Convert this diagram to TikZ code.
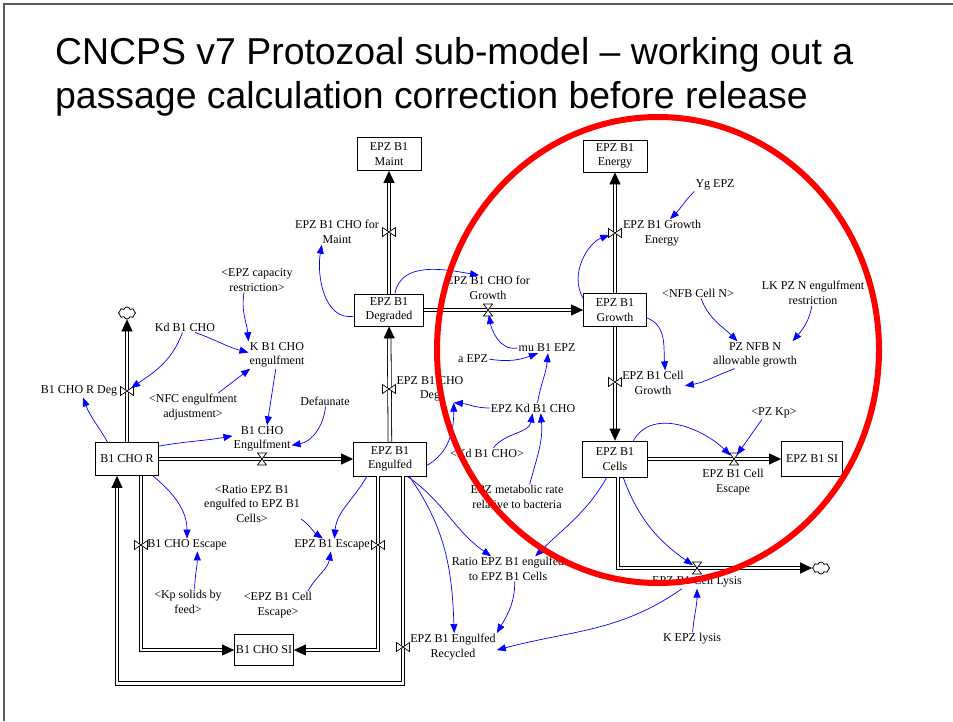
\documentclass[tikz,border=0pt]{standalone}
\usepackage{fontspec}
\setmainfont{Liberation Serif}
\newfontfamily\titlefont{Liberation Sans}
\usetikzlibrary{arrows.meta,shapes.symbols}
\newcommand\vfont{\fontsize{12}{14.5}\selectfont}
\definecolor{vblue}{RGB}{0,0,255}
\definecolor{ringred}{RGB}{255,0,0}
\begin{document}
\begin{tikzpicture}[x=1pt,y=1pt,
    stock/.style={rectangle,draw,line width=0.8pt,minimum width=64pt,minimum height=33pt,align=center,inner sep=1pt,font=\vfont},
    aux/.style={align=center,inner sep=1pt,font=\vfont},
    link/.style={vblue,line width=0.7pt,-{Triangle[length=9pt,width=7pt]}},
    pipe/.style={draw,double,double distance=2.8pt,line width=0.8pt,-{Triangle[length=12pt,width=11pt]}},
    sink/.style={cloud,draw,cloud puffs=8,minimum width=17pt,minimum height=12pt,inner sep=0pt,line width=0.8pt},
    titletext/.style={anchor=base west,inner sep=0pt,font=\titlefont\fontsize{37.4}{44}\selectfont},
    vvalve/.pic={\draw[line width=0.7pt,fill=white] (-6.5,-4.5) -- (-6.5,4.5) -- (6.5,-4.5) -- (6.5,4.5) -- cycle;},
    hvalve/.pic={\draw[line width=0.7pt,fill=white] (-4.5,6) -- (4.5,6) -- (-4.5,-6) -- (4.5,-6) -- cycle;}]
    \useasboundingbox (0,0) rectangle (953,-721);
    \draw[line width=1.5pt,gray!70!black] (4,-721) -- (4,-4) -- (953,-4);
    \node (title1) at(55,-64) [titletext] {CNCPS v7 Protozoal sub-model – working out a};
    \node (title2) at(55,-108) [titletext] {passage calculation correction before release};

    \node (maint) at(389,-154) [stock] {EPZ B1\\Maint};
    \node (degraded) at(389,-310) [stock,minimum width=69pt,minimum height=32pt] {EPZ B1\\Degraded};
    \node (energy) at(615,-156) [stock,minimum height=32pt] {EPZ B1\\Energy};
    \node (growth) at(615,-310) [stock,minimum width=63pt] {EPZ B1\\Growth};
    \node (cells) at(615,-459) [stock,minimum width=65pt,minimum height=36pt] {EPZ B1\\Cells};
    \node (epzsi) at(812,-459) [stock,minimum width=61pt,minimum height=35pt] {EPZ B1 SI};
    \node (chor) at(127,-459) [stock,minimum width=63pt] {B1 CHO R};
    \node (engulfed) at(390,-459) [stock,minimum width=73pt,minimum height=34pt] {EPZ B1\\Engulfed};
    \node (chosi) at(264,-650) [stock,minimum width=59pt,minimum height=31pt] {B1 CHO SI};
    \node (sinktop) at(127,-313) [sink] {};
    \node (sinklysis) at(821,-568) [sink] {};

    \draw[pipe] (chor) -- (sinktop);
    \draw[pipe] (chor) -- (engulfed);
    \draw[pipe] (engulfed) -- (degraded);
    \draw[pipe] (degraded) -- (maint);
    \draw[pipe] (degraded) -- (growth);
    \draw[pipe] (growth) -- (energy);
    \draw[pipe] (growth) -- (cells);
    \draw[pipe] (cells) -- (epzsi);
    \draw[pipe] ([xshift=3pt]cells.south) |- (sinklysis);
    \draw[pipe] ([xshift=14pt]chor.south) |- (chosi);
    \draw[pipe] ([xshift=-12pt]engulfed.south) |- (chosi);
    \draw[pipe] ([xshift=13pt]engulfed.south) -- ++(0,-207) -| ([xshift=-10pt]chor.south);

    \coordinate (vmaint) at(389,-232);
    \coordinate (vgrowth) at(488,-310);
    \coordinate (venergy) at(615,-233);
    \coordinate (vcellgrowth) at(615,-382);
    \coordinate (vcellesc) at(734,-459);
    \coordinate (vlysis) at(697,-568);
    \coordinate (vchordeg) at(127,-391);
    \coordinate (vchoeng) at(262,-459);
    \coordinate (vchodeg) at(389,-389);
    \coordinate (vchoesc) at(141,-545);
    \coordinate (vepzesc) at(378,-545);
    \coordinate (vrecycled) at(403,-647);
    \foreach \v in {vmaint,venergy,vcellgrowth,vchordeg,vchodeg,vchoesc,vepzesc,vrecycled}
        \pic at(\v) {vvalve};
    \foreach \v in {vgrowth,vcellesc,vlysis,vchoeng}
        \pic at(\v) {hvalve};

    \node (lbmaint) at(337,-232) [aux] {EPZ B1 CHO for\\Maint};
    \node (lbgrowth) at(488,-288) [aux] {EPZ B1 CHO for\\Growth};
    \node (lbenergy) at(662,-233) [aux] {EPZ B1 Growth\\Energy};
    \node (ygepz) at(715,-185) [aux] {Yg EPZ};
    \node (nfbcelln) at(698,-293) [aux] {<NFB Cell N>};
    \node (lkpzn) at(813,-293) [aux] {LK PZ N engulfment\\restriction};
    \node (pznfbn) at(755,-355) [aux] {PZ NFB N\\allowable growth};
    \node (lbcellgrowth) at(653,-383) [aux] {EPZ B1 Cell\\Growth};
    \node (pzkp) at(774,-413) [aux] {<PZ Kp>};
    \node (lbcellesc) at(733,-482) [aux] {EPZ B1 Cell\\Escape};
    \node (lblysis) at(697,-582) [aux] {EPZ B1 Cell Lysis};
    \node (kepzlysis) at(692,-639) [aux] {K EPZ lysis};
    \node (mub1epz) at(547,-348) [aux] {mu B1 EPZ};
    \node (aepz) at(473,-359) [aux] {a EPZ};
    \node (epzkd) at(533,-408) [aux] {EPZ Kd B1 CHO};
    \node (kdshadow) at(487,-453) [aux] {<Kd B1 CHO>};
    \node (metab) at(517,-497) [aux] {EPZ metabolic rate\\relative to bacteria};
    \node (lbchodeg) at(430,-389) [aux] {EPZ B1 CHO\\Deg};
    \node (ratio) at(508,-569) [aux] {Ratio EPZ B1 engulfed\\to EPZ B1 Cells};
    \node (lbrecycled) at(453,-647) [aux] {EPZ B1 Engulfed\\Recycled};
    \node (lbepzesc) at(332,-545) [aux] {EPZ B1 Escape};
    \node (ratioshadow) at(252,-504) [aux] {<Ratio EPZ B1\\engulfed to EPZ B1\\Cells>};
    \node (cellescshadow) at(278,-605) [aux] {<EPZ B1 Cell\\Escape>};
    \node (kpsolids) at(188,-602) [aux] {<Kp solids by\\feed>};
    \node (lbchoesc) at(187,-545) [aux] {B1 CHO Escape};
    \node (lbchordeg) at(79,-391) [aux] {B1 CHO R Deg};
    \node (kdb1cho) at(185,-327) [aux] {Kd B1 CHO};
    \node (kb1cho) at(277,-355) [aux] {K B1 CHO\\engulfment};
    \node (epzcap) at(257,-280) [aux] {<EPZ capacity\\restriction>};
    \node (nfcadj) at(193,-407) [aux] {<NFC engulfment\\adjustment>};
    \node (lbchoeng) at(262,-439) [aux] {B1 CHO\\Engulfment};
    \node (defaunate) at(325,-401) [aux] {Defaunate};

    \draw[link] (degraded.-170) to[out=190,in=-100] (lbmaint.-140);
    \draw[link] (degraded.70) to[out=80,in=170] (lbgrowth.125);
    \draw[link,shorten >=5pt] (mub1epz.west) to[out=190,in=-80] (vgrowth);
    \draw[link] (aepz.east) to[out=-10,in=200] (mub1epz.-150);
    \draw[link] (epzkd.50) to[out=80,in=-95] (mub1epz.-80);
    \draw[link] (epzkd.west) to[out=180,in=-5] (lbchodeg.-30);
    \draw[link] (kdshadow.40) to[out=50,in=-100] (epzkd.-95);
    \draw[link] (metab.45) to[out=75,in=-85] (epzkd.-35);
    \draw[link] (engulfed.-10) to[out=30,in=-90] (lbchodeg.-30);
    \draw[link,shorten >=6pt] (growth.160) to[out=120,in=200] (venergy);
    \draw[link] (ygepz.south west) to[out=225,in=45] (lbenergy.60);
    \draw[link] (nfbcelln.-60) to[out=-70,in=135] (pznfbn.142);
    \draw[link] (lkpzn.-95) to[out=-100,in=50] (pznfbn.20);
    \draw[link] (pznfbn.-146) to[out=200,in=10] (lbcellgrowth.-5);
    \draw[link] (growth.-14) to[out=-20,in=95] (lbcellgrowth.46);
    \draw[link,shorten >=5pt] (pzkp.-152) -- (vcellesc);
    \draw[link,shorten >=5pt] (cells.45) to[out=60,in=135] (vcellesc);
    \draw[link,shorten >=5pt] (cells.-66) to[out=-70,in=145] (vlysis);
    \draw[link] (kepzlysis) to[out=85,in=-90] (lblysis);
    \draw[link] (lblysis.-156) to[out=215,in=15] (lbrecycled.-4);
    \draw[link] (cells.-114) to[out=-120,in=45] (ratio.25);
    \draw[link] (engulfed.-45) to[out=-35,in=145] (ratio.143);
    \draw[link] (engulfed.-42) to[out=-55,in=92] (lbrecycled.85);
    \draw[link] (ratio.-62) to[out=-90,in=60] (lbrecycled.north east);
    \draw[link] (engulfed.-143) to[out=-120,in=85] (lbepzesc.70);
    \draw[link] (ratioshadow.-17) to[out=-35,in=145] (lbepzesc.145);
    \draw[link] (cellescshadow.25) to[out=60,in=-100] (lbepzesc.-100);
    \draw[link] (kpsolids.62) to[out=90,in=-90] (lbchoesc.-32);
    \draw[link] (chor.-33) to[out=-40,in=90] (lbchoesc.90);
    \draw[link] (chor.139) to[out=120,in=-70] (lbchordeg.-58);
    \draw[link] (chor.22) to[out=10,in=190] (lbchoeng.174);
    \draw[link,shorten >=5pt] (kdb1cho.-115) to[out=-110,in=35] (vchordeg);
    \draw[link] (kdb1cho.-28) to[out=-20,in=165] (kb1cho.175);
    \draw[link] (epzcap.-136) to[out=-100,in=95] (kb1cho.north west);
    \draw[link] (nfcadj.29) -- (kb1cho.-153);
    \draw[link] (kb1cho.-95) -- (lbchoeng.70);
    \draw[link] (defaunate.-85) to[out=-95,in=10] (lbchoeng.-12);

    \draw[ringred,line width=6pt] (658,-350) ellipse [x radius=221pt,y radius=233pt];
  \end{tikzpicture}
\end{document}
